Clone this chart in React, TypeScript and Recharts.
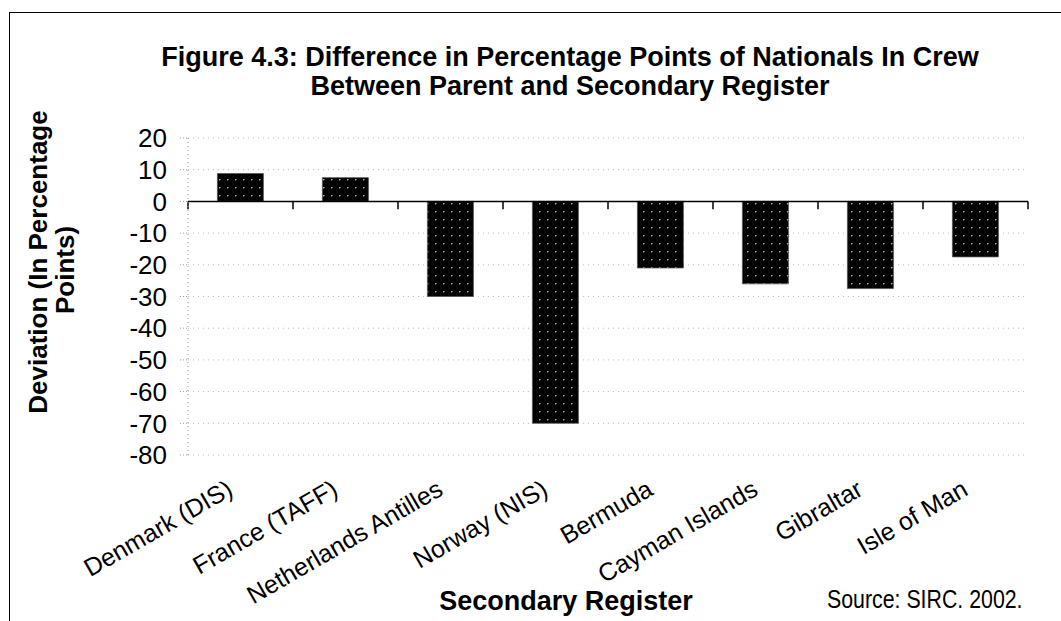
import {
  Bar,
  BarChart,
  CartesianGrid,
  ReferenceLine,
  XAxis,
  YAxis,
} from "recharts";

const registers = [
  "Denmark (DIS)",
  "France (TAFF)",
  "Netherlands Antilles",
  "Norway (NIS)",
  "Bermuda",
  "Cayman Islands",
  "Gibraltar",
  "Isle of Man",
];

const deviation = [8.8, 7.5, -30, -70, -21, -26, -27.5, -17.5];

const yTicks = [20, 10, 0, -10, -20, -30, -40, -50, -60, -70, -80];

const data = registers.map((name, i) => ({ name, value: deviation[i] }));

const FONT = "'Liberation Sans', Arial, sans-serif";

const CategoryTick = (props: any) => {
  const { x, y, payload } = props;
  const ax = x - 6;
  const ay = y + 31;
  return (
    <text
      x={ax}
      y={ay}
      transform={`rotate(-30, ${ax}, ${ay})`}
      textAnchor="end"
      fontFamily={FONT}
      fontSize={25}
      fill="#000"
    >
      {payload.value}
    </text>
  );
};

export default function App() {
  return (
    <div
      style={{
        position: "absolute",
        left: 0,
        top: 0,
        width: 1061,
        height: 621,
        background: "#fff",
        overflow: "hidden",
        fontFamily: FONT,
      }}
    >
      <style>{`body{margin:0}`}</style>
      <div
        style={{
          position: "absolute",
          left: 9,
          top: 12,
          width: 1100,
          height: 700,
          borderLeft: "1.5px solid #000",
          borderTop: "1.5px solid #000",
        }}
      />
      <div
        style={{
          position: "absolute",
          left: 0,
          width: 1140,
          top: 43,
          textAlign: "center",
          fontWeight: "bold",
          fontSize: 27,
          lineHeight: "29px",
        }}
      >
        Figure 4.3: Difference in Percentage Points of Nationals In Crew
        <br />
        Between Parent and Secondary Register
      </div>
      <svg
        width={110}
        height={621}
        style={{ position: "absolute", left: 0, top: 0 }}
      >
        <text
          x={47}
          y={262}
          transform="rotate(-90, 47, 262)"
          textAnchor="middle"
          fontFamily={FONT}
          fontWeight="bold"
          fontSize={26}
        >
          Deviation (In Percentage
        </text>
        <text
          x={74}
          y={270}
          transform="rotate(-90, 74, 270)"
          textAnchor="middle"
          fontFamily={FONT}
          fontWeight="bold"
          fontSize={26}
        >
          Points)
        </text>
      </svg>
      <div
        style={{
          position: "absolute",
          left: 0,
          width: 1132,
          top: 586,
          textAlign: "center",
          fontWeight: "bold",
          fontSize: 27,
          lineHeight: "30px",
        }}
      >
        Secondary Register
      </div>
      <div
        style={{
          position: "absolute",
          left: 827,
          top: 584,
          fontSize: 26,
          lineHeight: "30px",
          whiteSpace: "nowrap",
          transform: "scaleX(0.82)",
          transformOrigin: "left center",
        }}
      >
        Source: SIRC. 2002.
      </div>
      <div style={{ position: "absolute", left: 0, top: 0 }}>
        <BarChart
          width={1061}
          height={621}
          data={data}
          margin={{ top: 138, right: 33, bottom: 30, left: 90 }}
          barCategoryGap="28%"
        >
          <defs>
            <pattern
              id="dots"
              width="8"
              height="8"
              patternUnits="userSpaceOnUse"
            >
              <rect width="8" height="8" fill="#000" />
              <rect x="3" y="3" width="1.4" height="1.4" fill="#bbb" />
            </pattern>
          </defs>
          <CartesianGrid
            vertical={false}
            stroke="#bbb"
            strokeDasharray="1 4"
          />
          <XAxis
            dataKey="name"
            height={136}
            axisLine={false}
            tickLine={false}
            interval={0}
            tick={<CategoryTick />}
          />
          <YAxis
            type="number"
            domain={[-80, 20]}
            ticks={yTicks}
            interval={0}
            width={98}
            axisLine={{ stroke: "#999", strokeDasharray: "1 3" }}
            tickLine={{ stroke: "#999", strokeDasharray: "1 2" }}
            tickSize={8}
            tickMargin={13}
            tick={{ fill: "#000", fontSize: 26, fontFamily: FONT }}
          />
          <Bar
            dataKey="value"
            fill="url(#dots)"
            stroke="#555"
            strokeWidth={0.8}
            isAnimationActive={false}
          />
          <ReferenceLine y={0} stroke="#000" strokeWidth={1.5} />
          {registers.map((name) => (
            <ReferenceLine
              key={name}
              segment={[
                { x: name, y: 0 },
                { x: name, y: -2.5 },
              ]}
              position="start"
              stroke="#000"
              strokeWidth={1.5}
            />
          ))}
          <ReferenceLine
            segment={[
              { x: registers[registers.length - 1], y: 0 },
              { x: registers[registers.length - 1], y: -2.5 },
            ]}
            position="end"
            stroke="#000"
            strokeWidth={1.5}
          />
        </BarChart>
      </div>
    </div>
  );
}
